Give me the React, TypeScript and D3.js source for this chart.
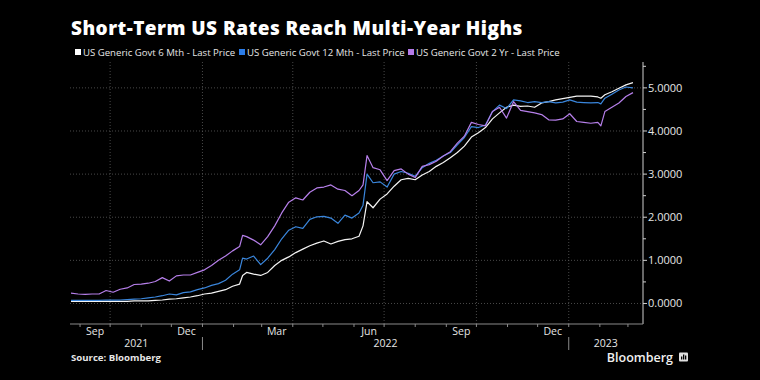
import React from "react";
import * as d3 from "d3";

const DATES = [
  "2021-08-23","2021-08-30","2021-09-06","2021-09-13","2021-09-20","2021-09-27","2021-10-04","2021-10-11","2021-10-18","2021-10-25",
  "2021-11-01","2021-11-08","2021-11-15","2021-11-22","2021-11-29","2021-12-06","2021-12-13","2021-12-20","2021-12-27","2022-01-03",
  "2022-01-10","2022-01-17","2022-01-24","2022-01-31","2022-02-07","2022-02-10","2022-02-14","2022-02-21","2022-02-28","2022-03-07",
  "2022-03-14","2022-03-21","2022-03-28","2022-04-04","2022-04-11","2022-04-18","2022-04-25","2022-05-02","2022-05-09","2022-05-16",
  "2022-05-23","2022-05-30","2022-06-06","2022-06-10","2022-06-14","2022-06-20","2022-06-27","2022-07-04","2022-07-11","2022-07-18",
  "2022-07-25","2022-08-01","2022-08-08","2022-08-15","2022-08-22","2022-08-29","2022-09-05","2022-09-12","2022-09-19","2022-09-26",
  "2022-10-03","2022-10-10","2022-10-17","2022-10-24","2022-10-31","2022-11-07","2022-11-14","2022-11-21","2022-11-28","2022-12-05",
  "2022-12-12","2022-12-19","2022-12-26","2023-01-02","2023-01-09","2023-01-16","2023-01-23","2023-01-30","2023-02-02","2023-02-06",
  "2023-02-13","2023-02-20","2023-02-27","2023-03-06",
];

const SIX_MONTH = [
  0.05,0.05,0.05,0.05,0.05,0.05,0.05,0.05,0.05,0.06,
  0.06,0.06,0.07,0.08,0.10,0.11,0.13,0.15,0.18,0.22,
  0.24,0.28,0.32,0.40,0.45,0.65,0.72,0.68,0.65,0.72,
  0.88,1.00,1.08,1.18,1.26,1.34,1.40,1.45,1.38,1.44,
  1.48,1.50,1.56,1.80,2.36,2.22,2.42,2.54,2.72,2.87,
  2.90,2.87,2.98,3.06,3.18,3.27,3.38,3.50,3.65,3.86,
  3.96,4.08,4.28,4.42,4.55,4.60,4.57,4.58,4.55,4.65,
  4.68,4.72,4.75,4.78,4.81,4.81,4.81,4.79,4.76,4.84,
  4.91,4.99,5.07,5.12,
];

const TWELVE_MONTH = [
  0.07,0.07,0.07,0.07,0.07,0.08,0.08,0.08,0.09,0.10,
  0.11,0.13,0.15,0.18,0.22,0.20,0.25,0.27,0.32,0.36,
  0.42,0.46,0.54,0.68,0.78,1.05,1.03,1.10,0.90,1.05,
  1.25,1.50,1.70,1.78,1.74,1.95,2.01,2.02,1.98,1.86,
  2.05,1.98,2.10,2.28,3.00,2.80,2.82,2.70,3.00,3.06,
  3.02,2.95,3.15,3.25,3.32,3.42,3.50,3.68,3.85,4.10,
  4.08,4.14,4.45,4.60,4.52,4.72,4.70,4.66,4.68,4.66,
  4.68,4.65,4.67,4.72,4.67,4.66,4.65,4.66,4.63,4.76,
  4.85,4.95,5.02,5.00,
];

const TWO_YEAR = [
  0.24,0.22,0.21,0.22,0.22,0.30,0.26,0.33,0.36,0.44,
  0.45,0.47,0.51,0.60,0.52,0.64,0.66,0.66,0.72,0.78,
  0.88,1.00,1.10,1.22,1.32,1.58,1.55,1.47,1.36,1.55,
  1.80,2.10,2.35,2.45,2.40,2.58,2.68,2.70,2.75,2.65,
  2.62,2.50,2.62,2.75,3.43,3.15,3.10,2.85,3.08,3.12,
  3.00,2.92,3.18,3.22,3.30,3.42,3.52,3.72,3.88,4.20,
  4.15,4.12,4.45,4.55,4.30,4.68,4.48,4.45,4.42,4.38,
  4.26,4.25,4.28,4.40,4.22,4.20,4.18,4.20,4.12,4.45,
  4.55,4.65,4.80,4.89,
];

const SERIES_NAMES = [
  "US Generic Govt 6 Mth - Last Price",
  "US Generic Govt 12 Mth - Last Price",
  "US Generic Govt 2 Yr - Last Price",
];
const SERIES_COLORS = ["#f4f4f4", "#3a86dc", "#b67fea"];
const LEGEND_COLORS = ["#ffffff", "#2b7de9", "#b57be8"];
const Y_TICKS = [0, 1, 2, 3, 4, 5];
const TITLE = "Short-Term US Rates Reach Multi-Year Highs";
const SOURCE = "Source: Bloomberg";

const W = 760, H = 380;
const FONT = "'Open Sans', 'DejaVu Sans', sans-serif";

export default function App() {
  const parse = d3.timeParse("%Y-%m-%d");
  const dates = DATES.map((d) => parse(d) as Date);
  const x = d3.scaleTime().domain([new Date(2021, 7, 22), new Date(2023, 2, 16)]).range([70, 643]);
  const y = d3.scaleLinear().domain([-0.476, 5.6]).range([324, 62]);
  const line = d3.line<number>().x((_, i) => x(dates[i])).y((v) => y(v));
  const series = [SIX_MONTH, TWELVE_MONTH, TWO_YEAR];

  const [d0, d1] = x.domain();
  const quarterTicks = x.ticks(d3.timeMonth.every(3) as any);
  const monthTicks = x.ticks(d3.timeMonth as any);
  const monthLabels = d3.timeMonth.range(d3.timeMonth.floor(d0), d1)
    .filter((m) => m.getMonth() % 3 === 2 && d3.timeMonth.offset(m, 1) <= d1)
    .map((m) => ({ d: d3.timeDay.offset(m, 15), label: d3.timeFormat("%b")(m) }));
  const yearStarts = d3.timeYear.range(d3.timeYear.floor(d0), d1);
  const yearLabels = yearStarts.map((ys) => {
    const a = ys < d0 ? d0 : ys;
    const e = d3.timeYear.offset(ys, 1);
    const b = e > d1 ? d1 : e;
    return { x: (x(a) + x(b)) / 2, label: d3.timeFormat("%Y")(ys) };
  });
  const yearSeps = yearStarts.filter((ys) => ys > d0);
  const minorY = d3.range(-0.5, 5.6, 0.5).filter((v) => v >= -0.476 && !Number.isInteger(v));

  const legendX = [75, 239, 408];

  return (
    <svg width={W} height={H} style={{ position: "absolute", left: 0, top: 0 }} fontFamily={FONT}>
      <rect width={W} height={H} fill="#000" />
      <text x={71} y={35} fill="#fff" fontSize={19} fontWeight={800} letterSpacing={0.45}>{TITLE}</text>
      {SERIES_NAMES.map((n, i) => (
        <g key={n}>
          <rect x={legendX[i]} y={49} width={6} height={6} fill={LEGEND_COLORS[i]} />
          <text x={legendX[i] + 8} y={55.5} fill="#e6e6e6" fontSize={9.6}>{n}</text>
        </g>
      ))}
      {Y_TICKS.map((t) => (
        <line key={"hg" + t} x1={70} x2={643} y1={y(t)} y2={y(t)} stroke="#5a5a5a" strokeWidth={0.8} strokeDasharray="1,2" />
      ))}
      {quarterTicks.map((t) => (
        <line key={"vg" + +t} x1={x(t)} x2={x(t)} y1={62} y2={324} stroke="#5a5a5a" strokeWidth={0.8} strokeDasharray="1,2" />
      ))}
      {series.map((s, i) => (
        <path key={i} d={line(s) || ""} fill="none" stroke={SERIES_COLORS[i]} strokeWidth={1.2} strokeLinejoin="round" />
      ))}
      <line x1={643} x2={643} y1={62} y2={324} stroke="#cfcfcf" strokeWidth={1} />
      <line x1={70} x2={643} y1={324} y2={324} stroke="#8a8a8a" strokeWidth={1} />
      {monthTicks.map((t) => (
        <line key={"mt" + +t} x1={x(t)} x2={x(t)} y1={324} y2={327} stroke="#8a8a8a" strokeWidth={1} />
      ))}
      {Y_TICKS.map((t) => (
        <g key={"yt" + t}>
          <line x1={643} x2={647} y1={y(t)} y2={y(t)} stroke="#cfcfcf" strokeWidth={1} />
          <text x={648} y={y(t) + 4} fill="#e6e6e6" fontSize={11}>{d3.format(".4f")(t)}</text>
        </g>
      ))}
      {minorY.map((t) => (
        <line key={"ym" + t} x1={643} x2={646} y1={y(t)} y2={y(t)} stroke="#cfcfcf" strokeWidth={1} />
      ))}
      {monthLabels.map((m) => (
        <text key={"ml" + +m.d} x={x(m.d)} y={335} fill="#e6e6e6" fontSize={10.5} textAnchor="middle">{m.label}</text>
      ))}
      {yearLabels.map((m) => (
        <text key={"yl" + m.label} x={m.x} y={347} fill="#e6e6e6" fontSize={10.5} textAnchor="middle">{m.label}</text>
      ))}
      {yearSeps.map((t) => (
        <line key={"ys" + +t} x1={x(t)} x2={x(t)} y1={337} y2={350} stroke="#8a8a8a" strokeWidth={1} />
      ))}
      <text x={71} y={361} fill="#e6e6e6" fontSize={9.6} fontWeight={700}>{SOURCE}</text>
      <text x={673} y={362} fill="#f0f0f0" fontSize={12.5} fontWeight={600} textAnchor="end">Bloomberg</text>
      <rect x={679} y={352.5} width={9} height={9} rx={1} fill="#e0e0e0" />
      <rect x={681} y={356.5} width={1.3} height={3} fill="#000" />
      <rect x={683} y={354.5} width={1.3} height={5} fill="#000" />
      <rect x={685} y={355.5} width={1.3} height={4} fill="#000" />
    </svg>
  );
}
